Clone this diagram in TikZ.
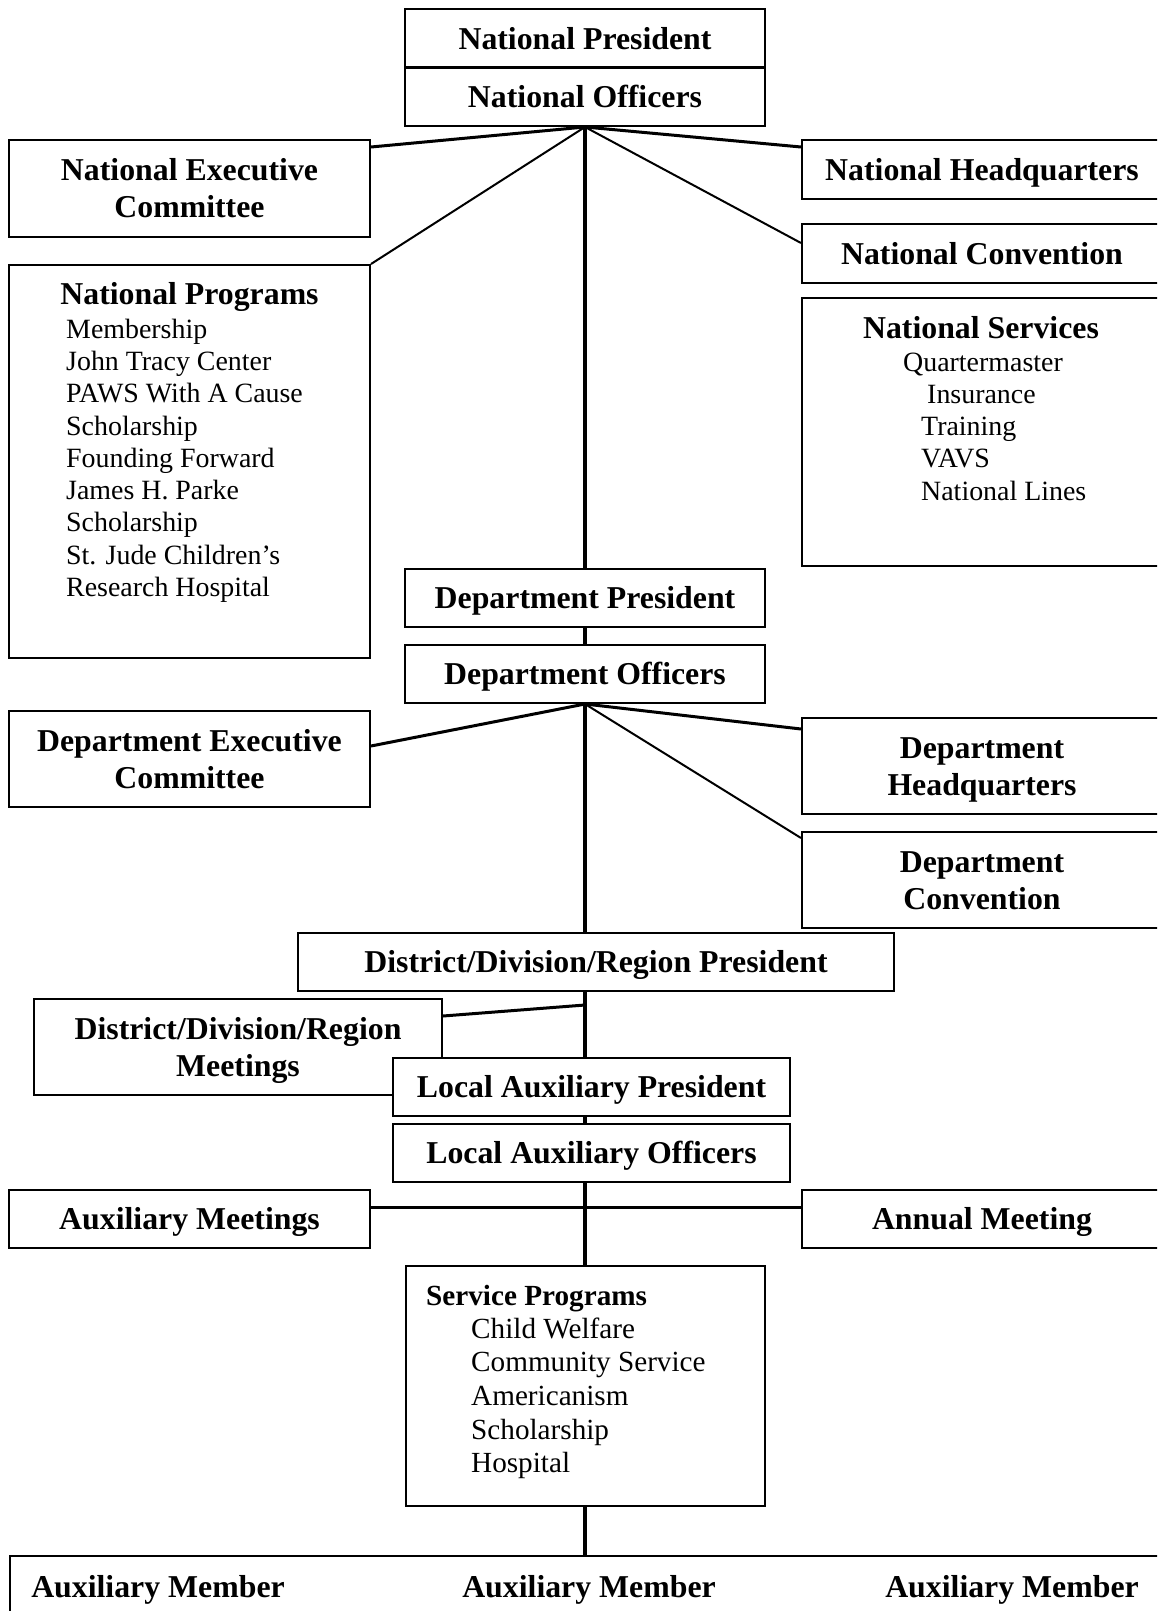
\documentclass[tikz,border=0pt]{standalone}
\usepackage{fontspec}
\setmainfont{Liberation Serif}
\usepackage{tikz}
\usetikzlibrary{calc}

\begin{document}
\begin{tikzpicture}[x=1pt,y=-1pt,
	box/.style={draw, line width=2pt, fill=white, inner sep=0pt, align=center,
		font=\fontsize{31.8}{37}\selectfont\bfseries, text height=23pt, text depth=1.5pt},
	twobox/.style={box, text height=60pt, text depth=1.5pt},
	title/.style={inner sep=0pt, font=\fontsize{31.8}{37}\selectfont\bfseries, text height=23pt, text depth=1.5pt},
	item/.style={inner sep=0pt, anchor=west, font=\fontsize{27.9}{32}\selectfont, text height=20pt, text depth=1.4pt},
	spitem/.style={inner sep=0pt, anchor=west, font=\fontsize{29.2}{34}\selectfont, text height=21pt, text depth=1.5pt},
	trunk/.style={line width=4.5pt},
	link/.style={line width=3pt},
	thinlink/.style={line width=2pt}]
\useasboundingbox (0,0) rectangle (1157,1611);
\clip (0,0) rectangle (1157,1611);

% national level
\node[box, minimum width=360pt, minimum height=58pt] (natpres) at (585,38.5) {National President};
\node[box, minimum width=360pt, minimum height=58pt] (natoff) at (585,97) {National Officers};
\node[twobox, minimum width=361pt, minimum height=97pt] (nec) at (189.5,188.5) {National Executive\\Committee};
\node[box, minimum width=361pt, minimum height=393pt] (natprog) at (189.5,461.5) {};
\node[box, minimum width=360pt, minimum height=59pt] (nhq) at (982,169.5) {National Headquarters};
\node[box, minimum width=360pt, minimum height=59pt] (ncon) at (982,253.5) {National Convention};
\node[box, minimum width=360pt, minimum height=268pt] (nserv) at (982,432) {};

\node[title] (nptitle) at (189.5,294) {National Programs};
\foreach \txt [count=\i] in {Membership, John Tracy Center, PAWS With A Cause, Scholarship,
	Founding Forward, James H. Parke, Scholarship, St. Jude Children’s, Research Hospital}{
	\node[item] (np\i) at (66,{329+32.25*(\i-1)}) {\txt};
}
\node[title] (nstitle) at (981,328) {National Services};
\foreach \xx/\txt [count=\i] in {903/Quartermaster, 927/Insurance, 921/Training, 921/VAVS, 921/National Lines}{
	\node[item] (ns\i) at (\xx,{362+32.2*(\i-1)}) {\txt};
}

% department level
\node[box, minimum width=360pt, minimum height=58pt] (deppres) at (585,598) {Department President};
\node[box, minimum width=360pt, minimum height=58pt] (depoff) at (585,674) {Department Officers};
\node[twobox, minimum width=361pt, minimum height=96pt] (dec) at (189.5,759) {Department Executive\\Committee};
\node[twobox, minimum width=360pt, minimum height=96pt] (dhq) at (982,766) {Department\\Headquarters};
\node[twobox, minimum width=360pt, minimum height=96pt] (dcon) at (982,880) {Department\\Convention};

% district and local level
\node[box, minimum width=596pt, minimum height=58pt] (ddrpres) at (596,962) {District/Division/Region President};
\node[twobox, minimum width=408pt, minimum height=96pt] (ddrmeet) at (238,1047) {District/Division/Region\\Meetings};
\node[box, minimum width=397pt, minimum height=58pt] (lapres) at (591.5,1087) {Local Auxiliary President};
\node[box, minimum width=397pt, minimum height=58pt] (laoff) at (591.5,1153) {Local Auxiliary Officers};
\node[box, minimum width=361pt, minimum height=58pt] (auxmeet) at (189.5,1219) {Auxiliary Meetings};
\node[box, minimum width=360pt, minimum height=58pt] (annual) at (982,1219) {Annual Meeting};

\node[box, minimum width=359pt, minimum height=240pt] (servprog) at (585.5,1386) {};
\node[title, anchor=west, font=\fontsize{29.2}{34}\selectfont\bfseries] (sptitle) at (426,1295) {Service Programs};
\foreach \txt [count=\i] in {Child Welfare, Community Service, Americanism, Scholarship, Hospital}{
	\node[spitem] (sp\i) at (471,{1328.5+33.6*(\i-1)}) {\txt};
}

\node[box, minimum width=1160pt, minimum height=84pt] (members) at (590,1598) {};
\node[title] (mem1) at (158,1587) {Auxiliary Member};
\node[title] (mem2) at (589,1587) {Auxiliary Member};
\node[title] (mem3) at (1012,1587) {Auxiliary Member};

% connectors
\draw[link] ([yshift=-8pt]nec.north east) -- (natoff.south);
\draw[thinlink] (natprog.north east) -- (natoff.south);
\draw[link] ([yshift=-8pt]nhq.north west) -- (natoff.south);
\draw[thinlink] ([yshift=-20pt]ncon.north west) -- (natoff.south);
\draw[trunk] (natoff.south) -- (deppres.north);
\draw[trunk] (deppres.south) -- (depoff.south |- deppres.south) -- (depoff.north);

\draw[link] ([yshift=-36pt]dec.north east) -- (depoff.south);
\draw[link] ([yshift=-12pt]dhq.north west) -- (depoff.south);
\draw[thinlink] ([yshift=-7pt]dcon.north west) -- (depoff.south);
\draw[trunk] (depoff.south) -- (depoff.south |- ddrpres.north);

\coordinate (ddrjoin) at (585,1005);
\draw[trunk] (depoff.south |- ddrpres.south) -- (depoff.south |- lapres.north);
\draw[link] ([yshift=-18pt]ddrmeet.north east) -- (ddrjoin);
\draw[trunk] (depoff.south |- lapres.south) -- (depoff.south |- laoff.north);
\draw[trunk] (depoff.south |- laoff.south) -- (servprog.north -| depoff.south);
\draw[link] ([yshift=-18pt]auxmeet.north east) -- ([yshift=-18pt]annual.north west);
\draw[trunk] (servprog.south -| depoff.south) -- (depoff.south |- members.north);
\end{tikzpicture}
\end{document}
